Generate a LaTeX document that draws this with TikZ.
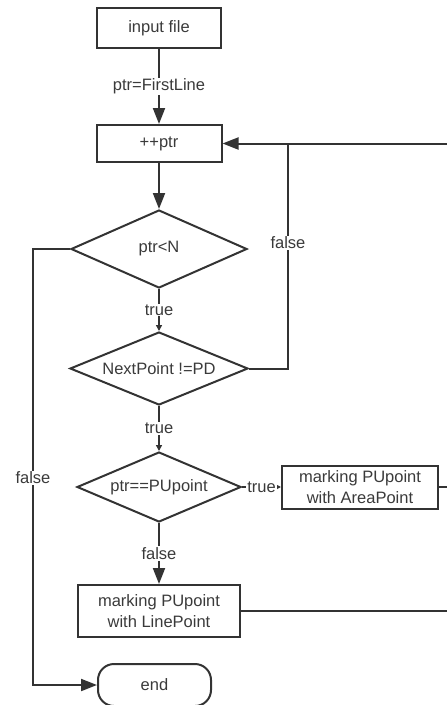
\documentclass[tikz,border=0pt]{standalone}
\usepackage{fontspec}
\setmainfont{Liberation Sans}
\usepackage{tikz}
\tikzset{>=latex}
\usetikzlibrary{arrows.meta}
\usetikzlibrary{shapes}
\usetikzlibrary{calc}
\definecolor{stroke}{HTML}{333333}
\definecolor{ink}{HTML}{3a3a3a}
\tikzset{
    every node/.style = {font=\fontsize{16.5}{20.5}\selectfont, text=ink},
    proc/.style = {draw=stroke, line width=2pt, rectangle, inner sep=0pt, align=center},
    cond/.style = {draw=stroke, line width=2pt, diamond, aspect=2.4, inner sep=0pt},
    wire/.style = {draw=stroke, line width=2pt},
    flow/.style = {wire, -{Triangle[length=16pt,width=12pt]}},
    flowsmall/.style = {wire, -{Triangle[length=6pt,width=6pt]}},
    lbl/.style = {fill=white, inner sep=1pt},
}

\begin{document}
\begin{tikzpicture}[x=1pt, y=-1pt]
            \useasboundingbox (0,0) rectangle (447,705);
            \clip (0,0) rectangle (447,705);
            % boxes and tests
            \node[proc, minimum width=124pt, minimum height=40pt] (input) at (159,28) {input file};
            \node[proc, minimum width=125pt, minimum height=37pt] (inc) at (159,143.5) {++ptr};
            \node[cond, minimum width=176pt, minimum height=78pt] (ltN) at (159,249) {ptr<N};
            \node[cond, minimum width=178pt, minimum height=73pt] (next) at (159,368.5) {NextPoint !=PD};
            \node[cond, minimum width=164pt, minimum height=70pt] (pu) at (159,487) {ptr==PUpoint};
            \node[proc, minimum width=156pt, minimum height=43pt] (area) at (360,487) {marking PUpoint\\with AreaPoint};
            \node[proc, minimum width=162pt, minimum height=52pt] (line) at (159,611) {marking PUpoint\\with LinePoint};
            \node[proc, rounded corners=16pt, minimum width=113pt, minimum height=42pt] (stop) at (154.5,685) {end};
            % corners of the side lines
            \coordinate (lft) at (33,478);
            \coordinate (rgt) at (288,243);
            \coordinate (loopin) at (447,143.5);
            \coordinate (areaout) at (447,487);
            \coordinate (lineout) at (447,611);
            % connectors
            \draw[flow] (input) -- node[lbl] {ptr=FirstLine} (inc);
            \draw[flow] (inc) -- (ltN);
            \draw[flowsmall] (ltN) -- node[lbl] {true} (next);
            \draw[flowsmall] (next) -- node[lbl] {true} (pu);
            \draw[flowsmall] (pu) -- node[lbl] {true} (area);
            \draw[flow] (pu) -- node[lbl] {false} (line);
            \draw[flow] (ltN.west) -| (lft) node[lbl] {false} |- (stop.west);
            \draw[wire] (next.east) -| (rgt) node[lbl] {false} |- (loopin);
            \draw[flow] (loopin) -- (inc.east);
            \draw[wire] (area.east) -- (areaout);
            \draw[wire] (line.east) -- (lineout);
        \end{tikzpicture}
\end{document}
